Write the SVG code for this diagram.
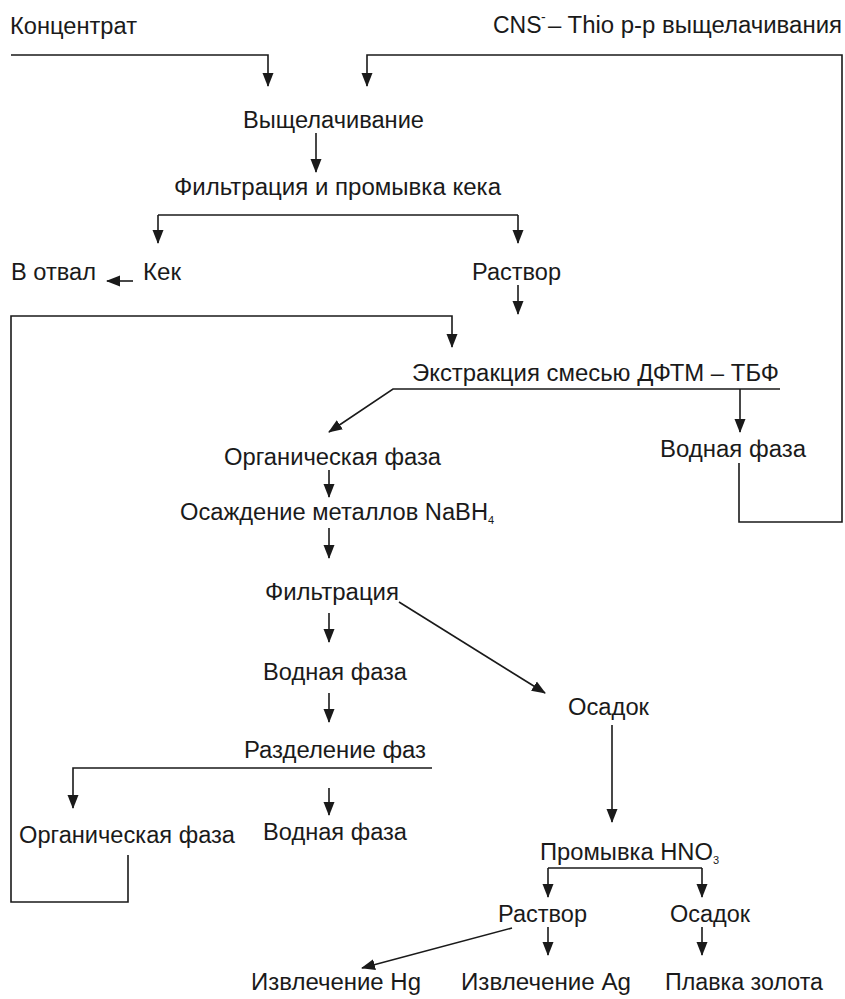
<svg xmlns="http://www.w3.org/2000/svg" width="845" height="999" viewBox="0 0 845 999">
<style>
text{font-family:"Liberation Sans",Arial,sans-serif;font-size:23px;fill:#1a1a1a}
.c path{fill:none;stroke:#1a1a1a;stroke-width:1.6}
.a{marker-end:url(#ah)}
</style>
<defs>
<marker id="ah" markerUnits="userSpaceOnUse" markerWidth="14" markerHeight="12" refX="13" refY="5.5" orient="auto" viewBox="0 0 14 11">
<path d="M0,0 L14,5.5 L0,11 z" fill="#1a1a1a"/>
</marker>
</defs>
<rect width="845" height="999" fill="#fff"/>
<g id="n-konc"><text x="10" y="34" textLength="127" lengthAdjust="spacingAndGlyphs">Концентрат</text></g>
<g id="n-cns"><text y="33"><tspan x="493">CNS</tspan><tspan x="541" y="22" font-size="14">-</tspan><tspan x="548" y="33" textLength="294" lengthAdjust="spacingAndGlyphs">– Thio р-р выщелачивания</tspan></text></g>
<g id="n-vysch"><text x="243" y="128" textLength="181" lengthAdjust="spacingAndGlyphs">Выщелачивание</text></g>
<g id="n-filt1"><text x="174" y="195" textLength="327" lengthAdjust="spacingAndGlyphs">Фильтрация и промывка кека</text></g>
<g id="n-otval"><text x="11" y="280" textLength="85" lengthAdjust="spacingAndGlyphs">В отвал</text></g>
<g id="n-kek"><text x="143" y="280" textLength="38" lengthAdjust="spacingAndGlyphs">Кек</text></g>
<g id="n-rastvor1"><text x="472" y="280" textLength="89" lengthAdjust="spacingAndGlyphs">Раствор</text></g>
<g id="n-extr"><text x="412" y="381" textLength="367" lengthAdjust="spacingAndGlyphs">Экстракция смесью ДФТМ – ТБФ</text></g>
<g id="n-org1"><text x="224" y="465" textLength="217" lengthAdjust="spacingAndGlyphs">Органическая фаза</text></g>
<g id="n-vod1"><text x="660" y="457" textLength="146" lengthAdjust="spacingAndGlyphs">Водная фаза</text></g>
<g id="n-osazh"><text x="180" y="520"><tspan textLength="308" lengthAdjust="spacingAndGlyphs">Осаждение металлов NaBH</tspan><tspan font-size="11" dy="4">4</tspan></text></g>
<g id="n-filt2"><text x="265" y="600" textLength="134" lengthAdjust="spacingAndGlyphs">Фильтрация</text></g>
<g id="n-vod2"><text x="263" y="680" textLength="144" lengthAdjust="spacingAndGlyphs">Водная фаза</text></g>
<g id="n-osadok1"><text x="568" y="715" textLength="81" lengthAdjust="spacingAndGlyphs">Осадок</text></g>
<g id="n-razd"><text x="244" y="758" textLength="182" lengthAdjust="spacingAndGlyphs">Разделение фаз</text></g>
<g id="n-org2"><text x="19" y="843" textLength="216" lengthAdjust="spacingAndGlyphs">Органическая фаза</text></g>
<g id="n-vod3"><text x="263" y="840" textLength="144" lengthAdjust="spacingAndGlyphs">Водная фаза</text></g>
<g id="n-promyv"><text x="540" y="860"><tspan textLength="173" lengthAdjust="spacingAndGlyphs">Промывка HNO</tspan><tspan font-size="11" dy="4">3</tspan></text></g>
<g id="n-rastvor2"><text x="498" y="922" textLength="89" lengthAdjust="spacingAndGlyphs">Раствор</text></g>
<g id="n-osadok2"><text x="670" y="922" textLength="80" lengthAdjust="spacingAndGlyphs">Осадок</text></g>
<g id="n-hg"><text x="251" y="990" textLength="170" lengthAdjust="spacingAndGlyphs">Извлечение Hg</text></g>
<g id="n-ag"><text x="461" y="990" textLength="170" lengthAdjust="spacingAndGlyphs">Извлечение Ag</text></g>
<g id="n-gold"><text x="665" y="990" textLength="158" lengthAdjust="spacingAndGlyphs">Плавка золота</text></g>
<g id="connectors" class="c">
<path class="a" d="M11,55 H268 V86"/>
<path class="a" d="M739,463 V522 H842 V55 H367 V86"/>
<path class="a" d="M316,133 V172"/>
<path d="M158,215 H518"/>
<path class="a" d="M158,215 V243"/>
<path class="a" d="M518,215 V243"/>
<path class="a" d="M133,281 H107"/>
<path class="a" d="M518,285 V314"/>
<path class="a" d="M128,855 V902 H11 V316 H452 V347"/>
<path class="a" d="M780,389 H393 L329,432"/>
<path class="a" d="M740,389 V432"/>
<path class="a" d="M329,470 V497"/>
<path class="a" d="M329,528 V558"/>
<path class="a" d="M399,602 L545,693"/>
<path class="a" d="M329,613 V642"/>
<path class="a" d="M329,693 V722"/>
<path class="a" d="M432,768 H73 V808"/>
<path class="a" d="M329,788 V815"/>
<path class="a" d="M612,725 V822"/>
<path d="M548,868 H702"/>
<path class="a" d="M548,868 V897"/>
<path class="a" d="M702,868 V897"/>
<path class="a" d="M512,928 L362,968"/>
<path class="a" d="M548,927 V955"/>
<path class="a" d="M702,927 V955"/>
</g>
</svg>
